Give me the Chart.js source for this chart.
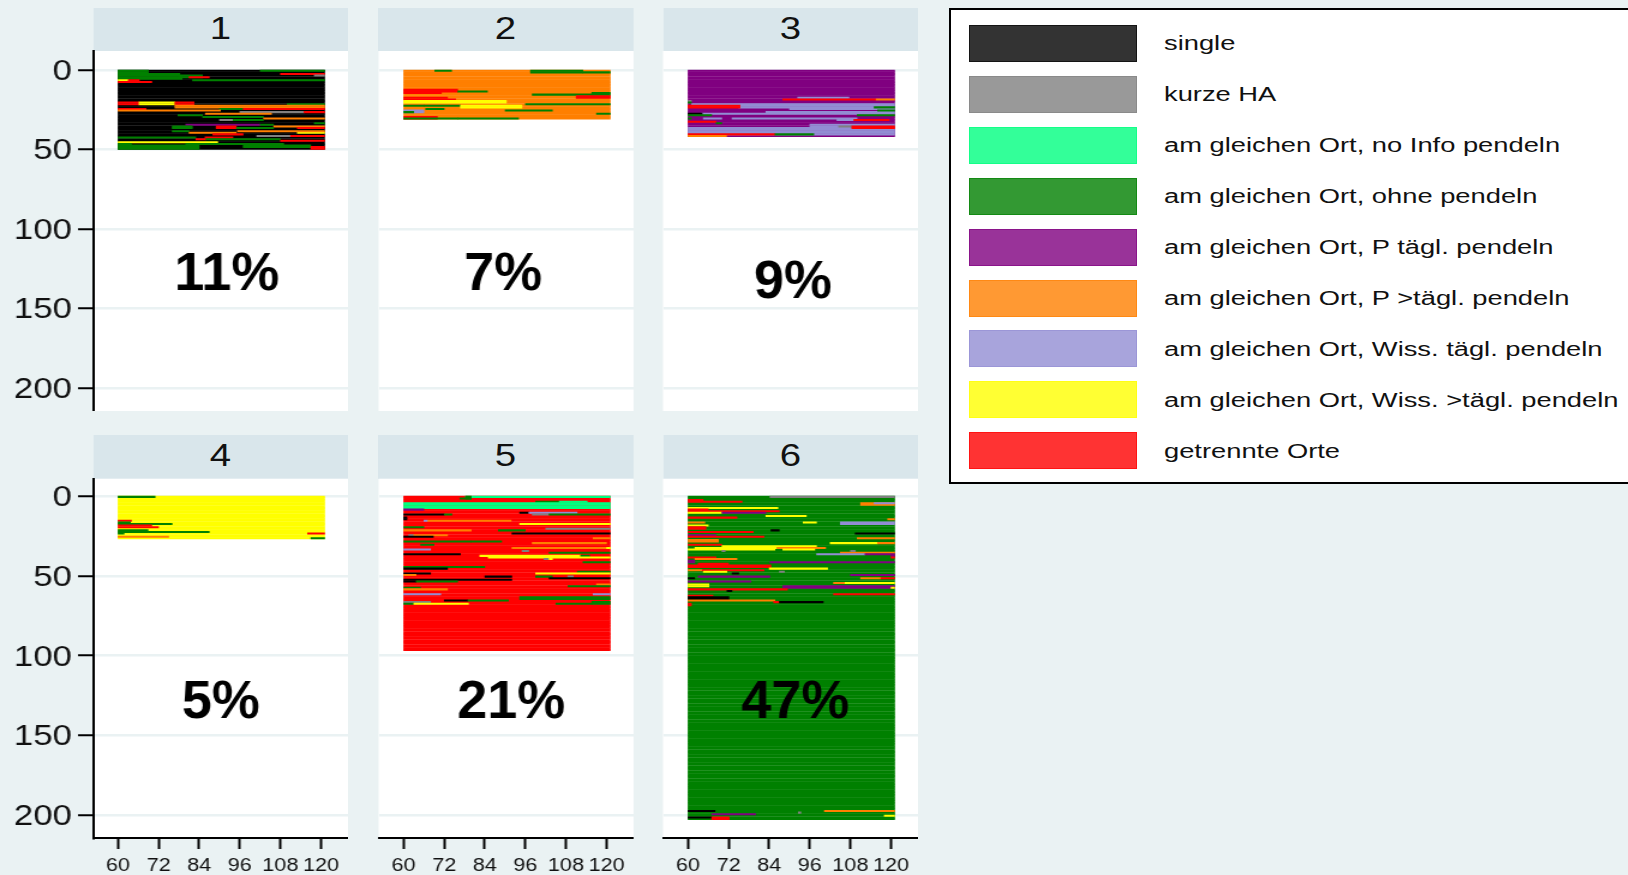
<!DOCTYPE html>
<html>
<head>
<meta charset="utf-8">
<title>Sequenzplot</title>
<script src="https://cdn.jsdelivr.net/npm/chart.js@4"></script>
<style>
html, body { margin: 0; padding: 0; width: 1628px; height: 875px; overflow: hidden; background: #eaf2f3; font-family: "Liberation Sans", Arial, sans-serif; }
#stage { position: absolute; left: 0; top: 0; height: 875px; transform-origin: 0 0; }
#stage canvas { position: absolute; }
.strip { position: absolute; background: #d9e6eb; text-align: center; color: #111; font-size: 32px; }
#legend { position: absolute; left: 949px; top: 8px; width: 700px; height: 472px; box-sizing: content-box; background: #fff; border: 2px solid #000; }
.swatch { position: absolute; left: 18px; width: 166px; height: 35px; }
.label { position: absolute; left: 213px; font-size: 20px; line-height: 37px; color: #111; white-space: nowrap; transform: scaleX(1.365); transform-origin: 0 0; }
</style>
</head>
<body>
<div id="stage"></div>
<div id="legend"></div>
<script>
// states
const S = 0, K = 1, N = 2, G = 3, P = 4, O = 5, L = 6, Y = 7, R = 8;
const stateLabels = ["single", "kurze HA", "am gleichen Ort, no Info pendeln", "am gleichen Ort, ohne pendeln", "am gleichen Ort, P tägl. pendeln", "am gleichen Ort, P >tägl. pendeln", "am gleichen Ort, Wiss. tägl. pendeln", "am gleichen Ort, Wiss. >tägl. pendeln", "getrennte Orte"];
const stateColors = ["#000000", "#808080", "#00ff7f", "#008000", "#800080", "#ff7f00", "#928dd3", "#ffff00", "#ff0000"];

const panelNames = ["1", "2", "3", "4", "5", "6"];
const rowCounts = [50, 31, 42, 27, 97, 203];
const baseStates = [S, O, P, Y, R, G];
const lastMonth = 121.1;
const percentLabels = ["11%", "7%", "9%", "5%", "21%", "47%"];
const percentMonth = [92.2, 89.4, 91, 90.4, 91.8, 91.7];
const percentRow = [127, 127, 132, 128, 128, 128];
const yTicks = [0, 50, 100, 150, 200];
const xTicks = [60, 72, 84, 96, 108, 120];

// [first row, last row + 1, from month, to month, state]
const segments1 = [
  [0, 2, 60, 69, G], [2, 4, 60, 78.3, G], [3, 5, 78, 85, G], [4, 6, 60, 79, G], [4, 5, 81, 87, R],
  [6, 7, 60, 63, Y], [6, 7, 63, 66.3, R], [6, 7, 82, 121.1, G], [7, 8, 60, 70, R],
  [0, 1, 102, 121.1, G], [2, 3, 108, 121.1, R], [3, 4, 118, 121.1, K],
  [20, 22, 60, 66.2, R], [20, 22, 66.2, 76.8, Y], [20, 22, 76.8, 82.5, R], [21, 22, 110, 121.1, G],
  [22, 24, 76.8, 121.1, O], [24, 25, 60, 68.3, R], [24, 25, 90, 97, G], [24, 25, 97, 121.1, R],
  [25, 26, 60, 90.3, O], [26, 27, 96, 115, K], [26, 27, 115, 121.1, R], [27, 28, 85.8, 105.4, O],
  [28, 29, 77.7, 85, G], [29, 30, 85, 95, G], [29, 30, 95, 103, G], [30, 31, 103, 121.1, O],
  [31, 32, 90, 94, K], [31, 32, 94, 103, G], [33, 34, 118, 121.1, G],
  [34, 35, 80, 102, P], [34, 35, 102, 106, G], [35, 37, 76, 82, G], [35, 37, 89, 95, R],
  [35, 36, 106, 121.1, O], [36, 37, 95, 106, G], [36, 37, 113, 121.1, R],
  [38, 39, 76, 81, G], [38, 39, 95.3, 113, O], [39, 40, 81, 95, O], [39, 40, 113, 121.1, Y], [38, 39, 113, 121.1, O],
  [40, 41, 88, 97, R], [41, 42, 101, 114, K], [41, 42, 111, 121.1, R],
  [42, 43, 60, 83, G], [42, 43, 85.7, 94, R], [43, 44, 83, 86, R], [43, 44, 86, 108, G],
  [44, 45, 108, 121.1, R], [45, 46, 60, 89.5, Y], [46, 47, 60, 64, G], [46, 47, 80, 109, G],
  [47, 50, 60, 84, G], [47, 49, 97, 117, G], [48, 50, 117, 121.1, R]
];
const segments2 = [
  [0, 1, 69.2, 74.2, G], [0, 2, 97.5, 113, G], [1, 2, 113, 121.1, G],
  [12, 14, 60, 76, R], [13, 14, 76, 84.8, G], [14, 15, 60, 71.2, R], [14, 16, 115.6, 121.1, G], [15, 16, 98, 115.6, G],
  [16, 18, 111, 121.1, R], [17, 18, 60, 73, R], [18, 19, 60, 75.4, R], [19, 21, 60, 90.4, Y],
  [21, 22, 96, 121.1, G], [22, 23, 60, 66, G], [22, 23, 66, 76.8, G], [22, 24, 76.8, 95, Y],
  [24, 25, 66.5, 72, G], [25, 27, 60, 66, L], [26, 27, 60, 63, G], [25, 26, 90, 104, G],
  [27, 28, 117, 121.1, G], [29, 31, 60, 70, R], [30, 31, 60, 76, G], [30, 31, 76, 94, G]
];
const segments3 = [
  [36, 41, 60, 121.1, L], [21, 23, 61, 121.1, L], [23, 24, 75, 121.1, L], [24, 25, 90, 121.1, L],
  [26, 27, 83, 121.1, L], [27, 28, 64, 121.1, L], [30, 31, 64.5, 70, L], [30, 31, 73, 110, L],
  [31, 32, 104, 109, L], [34, 36, 96, 121.1, L], [17, 18, 92.4, 107.6, L],
  [18, 19, 88, 115.6, R], [18, 19, 115.6, 121.1, O], [19, 20, 60, 61, K], [20, 21, 60, 61, G],
  [22, 24, 60, 75.4, R], [23, 24, 115, 121.1, G], [25, 26, 116, 121.1, G],
  [27, 28, 60, 64.2, S], [28, 29, 60, 67, G], [28, 29, 110, 121.1, G], [30, 31, 60, 61, G],
  [31, 32, 109, 119.5, R], [32, 33, 60, 68.3, R], [33, 34, 68.3, 70, G], [35, 36, 104.5, 108.4, K],
  [35, 37, 108.4, 121.1, R], [40, 41, 60, 85.7, R], [40, 41, 85.7, 97.2, G], [41, 42, 60, 71.4, O]
];
const segments4 = [
  [0, 1, 60, 71, G], [15, 16, 60, 64, R], [16, 17, 60, 63.7, G], [17, 18, 60, 68, G], [17, 18, 68, 76, G],
  [18, 19, 60, 70, R], [19, 20, 60, 72, R], [21, 22, 60, 68.9, G], [22, 23, 60, 69, G], [22, 23, 69, 87, G],
  [23, 24, 60, 61.8, G], [23, 24, 116, 121.1, R], [25, 26, 60, 75, O], [26, 27, 117, 121.1, G]
];
const segments5 = [
  [0, 1, 78.3, 121.1, N], [0, 2, 78.3, 80, G], [1, 2, 76.6, 80, G], [3, 4, 99, 106, G], [3, 4, 106, 114.3, N],
  [4, 8, 60, 121.1, N], [8, 9, 60, 66, P], [10, 11, 94.3, 97, S], [10, 11, 97, 111.3, L],
  [11, 12, 60, 72, S], [11, 12, 72, 74.3, G], [11, 12, 98, 103, K], [11, 12, 103, 121.1, G],
  [13, 15, 60, 61, S], [15, 16, 67, 91.8, O], [15, 16, 66, 67, L], [17, 18, 94.3, 121.1, Y],
  [19, 20, 60, 66, G], [20, 21, 102, 121.1, K], [21, 22, 60, 80, O], [21, 22, 88, 96, G],
  [23, 24, 92, 121.1, S], [24, 25, 61.5, 63, K], [24, 25, 63, 73, O], [25, 26, 60, 68.8, S],
  [26, 27, 116, 121.1, O], [28, 29, 60, 80, G], [28, 29, 80, 89, G], [29, 30, 98, 120, O],
  [30, 31, 65, 69, G], [32, 33, 92, 121.1, O], [32, 33, 120, 121.1, Y], [33, 34, 60, 68, L],
  [34, 35, 95, 97, K], [35, 36, 103, 121.1, G], [36, 37, 60, 76.8, S], [37, 38, 82.5, 112.3, Y],
  [37, 38, 112.3, 115, G], [38, 39, 85, 121.1, Y], [39, 40, 101.5, 103, K], [39, 40, 103, 104, Y],
  [41, 42, 113, 121.1, G], [44, 45, 60, 66, G], [44, 45, 66, 73.4, G], [44, 45, 73.4, 84, G],
  [45, 46, 60, 73, S], [47, 48, 111.3, 121.1, G], [48, 49, 60, 68, S], [48, 49, 99, 121.1, Y],
  [49, 50, 60, 63.7, O], [50, 51, 84, 92, S], [50, 51, 99, 104, G], [50, 51, 108.5, 110.2, K],
  [51, 52, 103, 121.1, S], [52, 53, 60, 92, S], [53, 54, 60, 63.7, S], [53, 54, 63.7, 76, G],
  [55, 56, 117, 121.1, O], [56, 57, 108.6, 121.1, G], [57, 58, 60, 65, G], [58, 59, 60, 73, O],
  [61, 62, 60, 71, L], [61, 62, 116, 121.1, L], [63, 65, 94.3, 121.1, G], [65, 66, 72, 79, S],
  [65, 66, 79, 91, G], [66, 67, 60, 68, K], [66, 68, 115.6, 121.1, G], [67, 68, 60, 63, G],
  [67, 68, 63, 79.2, Y], [67, 68, 105, 115.6, G]
];
const segments6 = [
  [0, 1, 84.2, 121.1, K], [2, 3, 60, 64.5, R], [3, 4, 60, 76, R], [4, 6, 111, 121.1, O], [4, 5, 115, 121.1, L],
  [7, 8, 60, 86.6, Y], [8, 10, 60, 66, R], [9, 10, 66, 87, R], [10, 11, 60, 70, Y], [10, 11, 70, 83, P],
  [12, 13, 83, 95, Y], [13, 14, 60, 74.5, R], [14, 15, 119, 121.1, O], [16, 17, 94, 98, Y], [16, 17, 60, 65, O],
  [16, 18, 105, 121.1, L], [18, 19, 60, 66, Y], [19, 21, 60, 65.3, R], [21, 22, 84.5, 87, S],
  [22, 23, 60, 79.3, R], [23, 24, 109.4, 121.1, S], [24, 25, 60, 68.3, P], [25, 26, 60, 82.5, R],
  [26, 27, 110, 121.1, O], [27, 29, 60, 69, O], [29, 30, 102, 116, Y], [29, 30, 116, 121.1, O],
  [30, 31, 60, 70, R], [31, 32, 70, 98, Y], [32, 33, 62, 86.3, Y], [32, 33, 86.3, 100.7, O],
  [33, 34, 60, 85.7, Y], [33, 34, 88, 97.5, Y], [34, 35, 70, 71, K], [35, 36, 105, 121.1, O], [34, 35, 108, 109.5, K],
  [36, 37, 98, 112.3, L], [36, 37, 112.3, 121.1, P], [37, 38, 120, 121.1, P], [38, 39, 60, 68.3, R], [38, 39, 120, 121.1, R],
  [39, 40, 62, 74.5, O], [40, 42, 60, 62, P], [41, 42, 84.2, 121.1, P], [42, 43, 63, 72, R],
  [43, 45, 60, 84.5, R], [45, 46, 84, 101.3, Y], [46, 47, 60, 64.2, O], [46, 47, 64.2, 82.5, R],
  [47, 48, 64.5, 71.5, Y], [47, 48, 87, 88.5, K], [48, 49, 73, 75, S], [49, 50, 108, 121.1, P],
  [50, 51, 63, 84.2, P], [51, 52, 60, 62, S], [51, 52, 111, 117, O], [51, 52, 117, 121.1, R],
  [53, 54, 60, 78.6, P], [54, 55, 103, 106.4, O], [54, 55, 106.4, 121.1, Y], [55, 57, 60, 66.2, Y],
  [56, 58, 88, 121.1, P], [57, 58, 120, 121.1, Y], [58, 59, 60, 89.4, R], [59, 60, 71.5, 73, S],
  [61, 62, 103, 121.1, R], [62, 63, 60, 67.4, R], [63, 65, 60, 72.1, S], [65, 66, 60, 85.7, O],
  [66, 67, 85.3, 87, R], [66, 67, 87, 100, S], [67, 69, 60, 61, R],
  [197, 198, 60, 68, S], [197, 198, 100.3, 121.1, O], [198, 199, 92.6, 93.4, K], [199, 200, 67, 80, P],
  [200, 201, 118, 121.1, Y], [201, 202, 60, 67, S], [201, 203, 67, 72.2, R]
];
const panelSegments = [segments1, segments2, segments3, segments4, segments5, segments6];

const stretch = 1.2;
const stage = document.getElementById("stage");
stage.style.width = (1628 / stretch) + "px";
stage.style.transform = "scaleX(" + stretch + ")";

// white plot region
const plotBackground = {
  id: "plotBackground",
  beforeDraw(chart) {
    const a = chart.chartArea;
    chart.ctx.save();
    chart.ctx.fillStyle = "#fff";
    chart.ctx.fillRect(a.left, a.top, a.right - a.left, a.bottom - a.top);
    chart.ctx.restore();
  }
};

// the percent text is not as wide as the axis text
const percentText = {
  id: "percentText",
  afterDraw(chart, args, opts) {
    const ctx = chart.ctx;
    ctx.save();
    ctx.translate(chart.scales.x.getPixelForValue(opts.month), chart.scales.y.getPixelForValue(opts.row) + 3);
    ctx.scale(1 / stretch, 1);
    ctx.font = "bold 54px 'Liberation Sans'";
    ctx.fillStyle = "#000";
    ctx.textAlign = "center";
    ctx.textBaseline = "middle";
    ctx.fillText(opts.text, 0, 0);
    ctx.restore();
  }
};

panelNames.forEach((name, i) => {
  const col = i % 3, bottomRow = i > 2, hasLabels = col === 0;
  const offset = col * 285;

  const strip = document.createElement("div");
  strip.className = "strip";
  strip.textContent = name;
  strip.style.left = (93 + offset) / stretch + "px";
  strip.style.width = 255 / stretch + "px";
  strip.style.top = (bottomRow ? 435 : 8) + "px";
  strip.style.height = (bottomRow ? 43.7 : 43) + "px";
  strip.style.lineHeight = (bottomRow ? 40.7 : 40) + "px";
  stage.appendChild(strip);

  const canvas = document.createElement("canvas");
  canvas.width = Math.round(348 / stretch);
  canvas.height = bottomRow ? 451 : 411;
  canvas.style.left = offset / stretch + "px";
  canvas.style.top = (bottomRow ? 424 : 0) + "px";
  stage.appendChild(canvas);

  const bars = [], colors = [];
  for (let r = 0; r < rowCounts[i]; r++) {
    bars.push({ y: r + 0.5, x: [60, lastMonth] });
    colors.push(stateColors[baseStates[i]]);
  }
  panelSegments[i].forEach(([r0, r1, m0, m1, st]) => {
    for (let r = r0; r < r1; r++) {
      bars.push({ y: r + 0.5, x: [m0, m1] });
      colors.push(stateColors[st]);
    }
  });

  new Chart(canvas, {
    type: "bar",
    plugins: [plotBackground, percentText],
    data: {
      datasets: [{
        data: bars,
        backgroundColor: colors,
        borderWidth: 0,
        barThickness: 1.6,
        inflateAmount: 0.22,
        grouped: false
      }]
    },
    options: {
      indexAxis: "y",
      responsive: false,
      animation: false,
      events: [],
      layout: { padding: { top: bottomRow ? 54.7 : 51, left: 0, right: 0, bottom: 0 } },
      plugins: {
        legend: { display: false },
        tooltip: { enabled: false },
        percentText: { text: percentLabels[i], month: percentMonth[i], row: percentRow[i] }
      },
      scales: {
        x: {
          type: "linear",
          display: bottomRow,
          min: 52.61,
          max: 128,
          afterBuildTicks: (s) => { s.ticks = xTicks.map((v) => ({ value: v })); },
          afterFit: (s) => { s.height = bottomRow ? 37 : 0; },
          border: { color: "#000", width: 2 },
          grid: { drawOnChartArea: false, tickLength: 11, tickColor: "#000", tickWidth: 2 },
          ticks: {
            autoSkip: false,
            maxRotation: 0,
            padding: 6,
            color: "#111",
            font: { family: "'Liberation Sans'", size: 18 }
          }
        },
        y: {
          type: "linear",
          reverse: true,
          offset: false,
          min: bottomRow ? -10.9 : -11.95,
          max: bottomRow ? 214.4 : 214.5,
          afterBuildTicks: (s) => { s.ticks = yTicks.map((v) => ({ value: v })); },
          afterFit: (s) => {
            s.width = 93 / stretch;
            s.paddingTop = 0;
            s.paddingBottom = 0;
          },
          border: { display: hasLabels, color: "#000", width: 2 },
          grid: {
            offset: false,
            color: "#eaf2f3",
            lineWidth: 2.5,
            drawTicks: hasLabels,
            tickLength: 12.5,
            tickColor: "#000",
            tickWidth: 2
          },
          ticks: {
            display: hasLabels,
            padding: 5,
            labelOffset: 2,
            color: "#111",
            font: { family: "'Liberation Sans'", size: 29 }
          }
        }
      }
    }
  });
});

// legend box
const legend = document.getElementById("legend");
stateLabels.forEach((label, i) => {
  const top = 15 + i * 50.9;
  const sw = document.createElement("div");
  sw.className = "swatch";
  sw.style.top = top + "px";
  sw.style.background = stateColors[i] + "cc";
  sw.style.border = "1px solid " + stateColors[i] + "99";
  legend.appendChild(sw);
  const t = document.createElement("div");
  t.className = "label";
  t.textContent = label;
  t.style.top = (top + 0.3) + "px";
  legend.appendChild(t);
});
</script>
</body>
</html>
